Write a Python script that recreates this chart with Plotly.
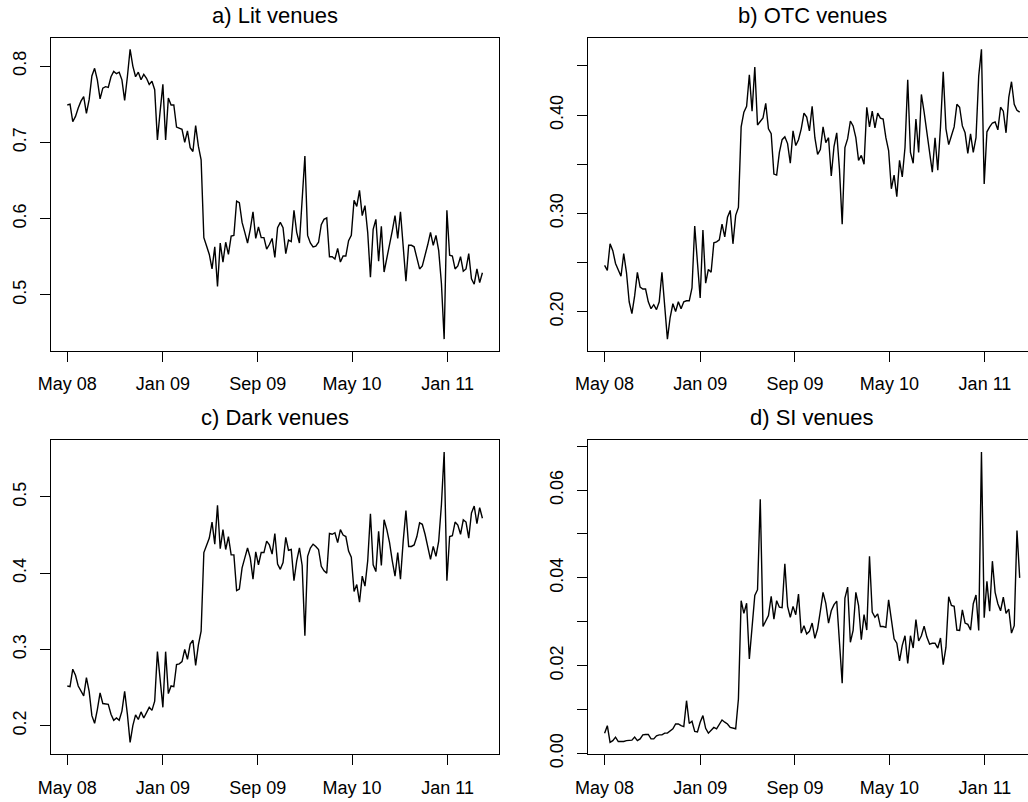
import pandas as pd
import plotly.graph_objects as go

# ---------------- data ----------------
start_date = "2008-05-01"
n_weeks = 153

lit = [0.749,0.750,0.727,0.734,0.745,0.754,0.760,0.738,0.756,0.787,
       0.797,0.782,0.757,0.771,0.773,0.772,0.786,0.793,0.790,0.792,
       0.782,0.755,0.786,0.822,0.800,0.786,0.792,0.782,0.789,0.784,
       0.776,0.780,0.769,0.703,0.741,0.776,0.703,0.758,0.749,0.749,
       0.720,0.719,0.717,0.700,0.715,0.693,0.688,0.722,0.695,0.677,
       0.575,0.564,0.553,0.534,0.563,0.511,0.568,0.543,0.569,0.553,
       0.577,0.578,0.623,0.621,0.595,0.582,0.568,0.586,0.609,0.574,
       0.589,0.575,0.575,0.560,0.566,0.574,0.549,0.588,0.595,0.588,
       0.554,0.572,0.570,0.611,0.582,0.568,0.620,0.682,0.578,0.568,
       0.563,0.564,0.569,0.592,0.599,0.601,0.550,0.550,0.547,0.561,
       0.543,0.551,0.551,0.571,0.578,0.624,0.616,0.637,0.604,0.617,
       0.582,0.523,0.586,0.599,0.544,0.590,0.530,0.547,0.565,0.584,
       0.604,0.574,0.609,0.560,0.518,0.565,0.565,0.563,0.549,0.534,
       0.538,0.551,0.566,0.582,0.565,0.578,0.558,0.515,0.442,0.611,
       0.552,0.551,0.534,0.538,0.550,0.531,0.534,0.554,0.521,0.514,
       0.534,0.516,0.529]

otc = [0.247,0.242,0.269,0.262,0.249,0.243,0.236,0.259,0.240,0.210,
       0.198,0.216,0.240,0.225,0.223,0.223,0.210,0.203,0.207,0.202,
       0.210,0.240,0.210,0.172,0.194,0.208,0.200,0.210,0.203,0.210,
       0.211,0.211,0.224,0.287,0.250,0.214,0.283,0.229,0.243,0.240,
       0.270,0.271,0.273,0.289,0.276,0.296,0.303,0.269,0.298,0.306,
       0.388,0.403,0.409,0.441,0.404,0.449,0.390,0.394,0.397,0.412,
       0.386,0.381,0.340,0.339,0.362,0.375,0.378,0.371,0.351,0.384,
       0.369,0.375,0.386,0.402,0.398,0.384,0.409,0.377,0.360,0.365,
       0.388,0.372,0.377,0.338,0.368,0.382,0.345,0.289,0.367,0.376,
       0.394,0.389,0.377,0.354,0.359,0.350,0.408,0.388,0.404,0.387,
       0.402,0.397,0.396,0.377,0.364,0.325,0.339,0.317,0.354,0.337,
       0.367,0.436,0.362,0.351,0.396,0.362,0.421,0.403,0.381,0.362,
       0.342,0.377,0.344,0.388,0.444,0.386,0.370,0.379,0.388,0.411,
       0.408,0.389,0.382,0.361,0.381,0.362,0.377,0.440,0.467,0.330,
       0.383,0.388,0.392,0.393,0.385,0.408,0.404,0.382,0.418,0.434,
       0.411,0.405,0.403]

dark = [0.252,0.251,0.274,0.266,0.252,0.245,0.239,0.263,0.245,0.213,
        0.203,0.221,0.243,0.229,0.228,0.228,0.215,0.207,0.210,0.207,
        0.219,0.245,0.215,0.178,0.200,0.214,0.208,0.218,0.210,0.217,
        0.224,0.220,0.232,0.297,0.259,0.224,0.297,0.242,0.252,0.251,
        0.280,0.281,0.284,0.300,0.287,0.307,0.312,0.279,0.306,0.324,
        0.427,0.437,0.446,0.467,0.438,0.489,0.432,0.457,0.431,0.448,
        0.424,0.424,0.377,0.379,0.407,0.420,0.433,0.420,0.392,0.428,
        0.411,0.427,0.427,0.442,0.437,0.425,0.452,0.412,0.405,0.414,
        0.447,0.430,0.431,0.390,0.416,0.433,0.410,0.318,0.422,0.433,
        0.438,0.435,0.431,0.409,0.403,0.400,0.452,0.451,0.453,0.440,
        0.457,0.450,0.448,0.429,0.421,0.376,0.385,0.362,0.396,0.383,
        0.416,0.478,0.411,0.402,0.455,0.410,0.470,0.457,0.440,0.416,
        0.396,0.427,0.392,0.442,0.482,0.435,0.435,0.437,0.448,0.466,
        0.464,0.451,0.435,0.418,0.435,0.422,0.442,0.490,0.559,0.390,
        0.448,0.449,0.467,0.463,0.451,0.470,0.467,0.446,0.479,0.488,
        0.465,0.486,0.472]

si = [0.0046,0.0063,0.0025,0.0029,0.0037,0.0027,0.0027,0.0027,0.0029,0.0029,
      0.0030,0.0037,0.0029,0.0033,0.0042,0.0043,0.0043,0.0033,0.0033,0.0040,
      0.0042,0.0042,0.0046,0.0046,0.0052,0.0056,0.0067,0.0067,0.0063,0.0061,
      0.0120,0.0068,0.0073,0.0050,0.0049,0.0071,0.0086,0.0057,0.0046,0.0053,
      0.0059,0.0056,0.0065,0.0076,0.0071,0.0067,0.0059,0.0058,0.0056,0.0124,
      0.0348,0.0319,0.0342,0.0215,0.0287,0.0360,0.0373,0.0579,0.0289,0.0303,
      0.0314,0.0358,0.0306,0.0348,0.0333,0.0332,0.0432,0.0335,0.0310,0.0335,
      0.0316,0.0363,0.0274,0.0291,0.0272,0.0278,0.0297,0.0262,0.0284,0.0324,
      0.0367,0.0342,0.0297,0.0325,0.0339,0.0347,0.0242,0.0160,0.0354,0.0379,
      0.0253,0.0280,0.0367,0.0337,0.0259,0.0316,0.0281,0.0449,0.0322,0.0310,
      0.0318,0.0289,0.0289,0.0287,0.0350,0.0303,0.0261,0.0251,0.0211,0.0246,
      0.0268,0.0205,0.0268,0.0240,0.0305,0.0256,0.0268,0.0290,0.0265,0.0249,
      0.0251,0.0251,0.0240,0.0263,0.0202,0.0242,0.0357,0.0337,0.0335,0.0281,
      0.0280,0.0327,0.0297,0.0294,0.0281,0.0341,0.0361,0.0280,0.0687,0.0309,
      0.0392,0.0324,0.0438,0.0367,0.0341,0.0325,0.0356,0.0319,0.0329,0.0274,
      0.0291,0.0508,0.0400]

titles = ["a) Lit venues", "b) OTC venues", "c) Dark venues", "d) SI venues"]

x_tick_dates = ["2008-05-01", "2009-01-01", "2009-09-01", "2010-05-01", "2011-01-01"]
x_tick_labels = ["May 08", "Jan 09", "Sep 09", "May 10", "Jan 11"]

y_ticks_lit = [0.5, 0.6, 0.7, 0.8]
y_labels_lit = ["0.5", "0.6", "0.7", "0.8"]
y_ticks_otc = [0.20, 0.25, 0.30, 0.35, 0.40, 0.45]
y_labels_otc = ["0.20", "", "0.30", "", "0.40", ""]
y_ticks_dark = [0.2, 0.3, 0.4, 0.5]
y_labels_dark = ["0.2", "0.3", "0.4", "0.5"]
y_ticks_si = [0.00, 0.01, 0.02, 0.03, 0.04, 0.05, 0.06, 0.07]
y_labels_si = ["0.00", "", "0.02", "", "0.04", "", "0.06", ""]

# ---------------- figure ----------------
W, H = 1028, 802
dates = pd.date_range(start_date, periods=n_weeks, freq="7D")

FONT = "Liberation Sans, Arial, Helvetica, sans-serif"

# box geometry in pixels
LEFT_BOX = (50.7, 499.0)
RIGHT_BOX_L = 588.0
RIGHT_BOX_FULL_R = RIGHT_BOX_L + (LEFT_BOX[1] - LEFT_BOX[0])
TOP_ROW = (37.7, 350.7)
BOT_ROW = (440.3, 754.0)

span = dates[-1] - dates[0]
x_lo = dates[0] - 0.04 * span
x_hi_full = dates[-1] + 0.04 * span
vis_frac = (W - RIGHT_BOX_L) / (RIGHT_BOX_FULL_R - RIGHT_BOX_L)
x_hi_right = x_lo + (x_hi_full - x_lo) * vis_frac


def yr(vals):
    lo, hi = min(vals), max(vals)
    r = hi - lo
    return [lo - 0.04 * r, hi + 0.04 * r]


panels = [
    (lit, y_ticks_lit, y_labels_lit, LEFT_BOX[0], LEFT_BOX[1], TOP_ROW, False),
    (otc, y_ticks_otc, y_labels_otc, RIGHT_BOX_L, W, TOP_ROW, True),
    (dark, y_ticks_dark, y_labels_dark, LEFT_BOX[0], LEFT_BOX[1], BOT_ROW, False),
    (si, y_ticks_si, y_labels_si, RIGHT_BOX_L, W, BOT_ROW, True),
]

fig = go.Figure()
layout = dict(
    template="none",
    width=W, height=H,
    margin=dict(l=0, r=0, t=0, b=0, pad=0, autoexpand=False),
    paper_bgcolor="white", plot_bgcolor="white",
    showlegend=False,
    font=dict(family=FONT, color="black", size=18),
)
annotations = []

for k, (vals, yt, yl, xl, xr, (yt_px, yb_px), clipped) in enumerate(panels):
    n = "" if k == 0 else str(k + 1)
    fig.add_trace(go.Scatter(
        x=dates, y=vals, mode="lines",
        line=dict(color="black", width=1.4),
        xaxis="x" + n, yaxis="y" + n, hoverinfo="skip",
    ))
    layout["xaxis" + n] = dict(
        domain=[xl / W, xr / W],
        range=[x_lo, x_hi_right if clipped else x_hi_full],
        anchor="y" + n, automargin=False,
        showgrid=False, zeroline=False,
        showline=True, mirror=True, linecolor="black", linewidth=1,
        ticks="outside", ticklen=10, tickwidth=1, tickcolor="black",
        tickvals=x_tick_dates, ticktext=x_tick_labels,
        tickfont=dict(family=FONT, size=18, color="black"),
        ticklabelstandoff=7,
    )
    layout["yaxis" + n] = dict(
        domain=[1 - yb_px / H, 1 - yt_px / H],
        range=yr(vals),
        anchor="x" + n, automargin=False,
        showgrid=False, zeroline=False,
        showline=True, mirror=(not clipped), linecolor="black", linewidth=1,
        ticks="outside", ticklen=10, tickwidth=1, tickcolor="black",
        tickvals=yt, ticktext=yl, tickangle=-90,
        tickfont=dict(family=FONT, size=18, color="black"),
        ticklabelstandoff=7,
    )
    cx = (xl + (xr if not clipped else RIGHT_BOX_FULL_R)) / 2
    ty = 15.5 if yt_px < 100 else 417.5
    annotations.append(dict(
        text=titles[k], x=cx / W, y=1 - ty / H, xref="paper", yref="paper",
        xanchor="center", yanchor="middle", showarrow=False,
        font=dict(family=FONT, size=22, color="black"),
    ))

layout["annotations"] = annotations
fig.update_layout(**layout)
fig.write_html("out.html")
